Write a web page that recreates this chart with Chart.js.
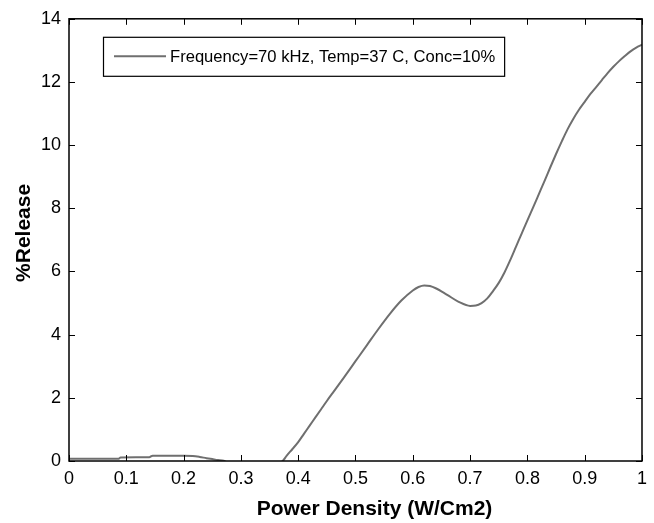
<!DOCTYPE html>
<html>
<head>
<meta charset="utf-8">
<script src="https://cdn.jsdelivr.net/npm/chart.js@4.4.1/dist/chart.umd.min.js"></script>
<style>
  html, body { margin: 0; padding: 0; background: #fff; }
  #wrap { width: 654px; height: 523px; }
</style>
</head>
<body>
<div id="wrap"><canvas id="releaseChart"></canvas></div>
<script>
// values
const powerDensity = [0, 0.05, 0.086, 0.09, 0.14, 0.146, 0.2, 0.216, 0.228, 0.24,
  0.25, 0.26, 0.27, 0.28, 0.3, 0.33, 0.36, 0.373, 0.38, 0.39,
  0.4, 0.41, 0.42, 0.43, 0.44, 0.45, 0.46, 0.48, 0.5, 0.52,
  0.54, 0.56, 0.58, 0.6, 0.61, 0.62, 0.63, 0.64, 0.66, 0.68,
  0.7, 0.71, 0.72, 0.73, 0.74, 0.75, 0.76, 0.77, 0.78, 0.79,
  0.8, 0.81, 0.82, 0.83, 0.84, 0.85, 0.86, 0.87, 0.88, 0.89,
  0.9, 0.91, 0.92, 0.93, 0.94, 0.95, 0.96, 0.97, 0.98, 0.99, 1.0];
const release = [0.07, 0.07, 0.07, 0.11, 0.12, 0.17, 0.17, 0.16, 0.13, 0.09,
  0.06, 0.03, 0.01, -0.1, -0.3, -0.35, -0.15, 0, 0.17, 0.38,
  0.6, 0.86, 1.12, 1.38, 1.64, 1.9, 2.15, 2.65, 3.16, 3.67,
  4.18, 4.66, 5.08, 5.4, 5.51, 5.56, 5.54, 5.47, 5.26, 5.04,
  4.91, 4.92, 5.0, 5.15, 5.38, 5.64, 5.97, 6.36, 6.78, 7.2,
  7.62, 8.03, 8.45, 8.87, 9.3, 9.72, 10.12, 10.5, 10.83, 11.12,
  11.37, 11.62, 11.84, 12.06, 12.28, 12.48, 12.66, 12.82, 12.97, 13.09, 13.18];
const xTicks = [0, 0.1, 0.2, 0.3, 0.4, 0.5, 0.6, 0.7, 0.8, 0.9, 1];
const yTicks = [0, 2, 4, 6, 8, 10, 12, 14];
const seriesLabel = 'Frequency=70 kHz, Temp=37 C, Conc=10%';
const xTitle = 'Power Density (W/Cm2)';
const yTitle = '%Release';

const fontFamily = 'Arial, "Liberation Sans", sans-serif';
const lineColor = '#6f6f6f';

// matlab style box, inward ticks, titles and boxed legend
const matlabAxes = {
  id: 'matlabAxes',
  afterDatasetsDraw(chart) {
    const { ctx, chartArea: a, scales: { x, y } } = chart;
    ctx.save();
    ctx.strokeStyle = '#000';
    ctx.lineWidth = 1.5;
    ctx.strokeRect(a.left, a.top, a.right - a.left, a.bottom - a.top);

    ctx.lineWidth = 1;
    ctx.beginPath();
    x.ticks.forEach(t => {
      const px = Math.round(x.getPixelForValue(t.value)) + 0.5;
      ctx.moveTo(px, a.bottom); ctx.lineTo(px, a.bottom - 6);
      ctx.moveTo(px, a.top); ctx.lineTo(px, a.top + 6);
    });
    y.ticks.forEach(t => {
      const py = Math.round(y.getPixelForValue(t.value)) + 0.5;
      ctx.moveTo(a.left, py); ctx.lineTo(a.left + 6, py);
      ctx.moveTo(a.right, py); ctx.lineTo(a.right - 6, py);
    });
    ctx.stroke();

    // axis titles
    ctx.fillStyle = '#000';
    ctx.font = 'bold 21px ' + fontFamily;
    ctx.textAlign = 'center';
    ctx.textBaseline = 'middle';
    ctx.fillText(xTitle, (a.left + a.right) / 2 + 19, 509);
    ctx.save();
    ctx.translate(24, (a.top + a.bottom) / 2 - 7);
    ctx.rotate(-Math.PI / 2);
    ctx.fillText(yTitle, 0, 0);
    ctx.restore();

    // legend
    ctx.font = '16.6px ' + fontFamily;
    const label = chart.data.datasets[0].label;
    const tw = ctx.measureText(label).width;
    const bx = a.left + 34, by = a.top + 18, bh = 39;
    const bw = 11 + 52 + 4 + tw + 9;
    ctx.fillStyle = '#fff';
    ctx.fillRect(bx, by, bw, bh);
    ctx.lineWidth = 1.2;
    ctx.strokeStyle = '#000';
    ctx.strokeRect(bx + 0.5, by + 0.5, bw, bh);
    ctx.strokeStyle = lineColor;
    ctx.lineWidth = 2;
    ctx.beginPath();
    ctx.moveTo(bx + 11, by + bh / 2);
    ctx.lineTo(bx + 63, by + bh / 2);
    ctx.stroke();
    ctx.fillStyle = '#000';
    ctx.textAlign = 'left';
    ctx.fillText(label, bx + 67, by + bh / 2 + 1);
    ctx.restore();
  }
};

const ctx = document.getElementById('releaseChart');
new Chart(ctx, {
  type: 'line',
  data: {
    datasets: [{
      label: seriesLabel,
      data: powerDensity.map((v, i) => ({ x: v, y: release[i] })),
      borderColor: lineColor,
      borderWidth: 2,
      pointRadius: 0,
      cubicInterpolationMode: 'monotone',
      fill: false,
      clip: 0
    }]
  },
  options: {
    responsive: true,
    maintainAspectRatio: false,
    animation: false,
    layout: { padding: { top: 14, right: 11, left: 0, bottom: 0 } },
    plugins: {
      legend: { display: false },
      tooltip: { enabled: false }
    },
    scales: {
      x: {
        type: 'linear',
        min: 0,
        max: 1,
        afterBuildTicks: s => { s.ticks = xTicks.map(v => ({ value: v })); },
        afterFit: s => { s.height = 62; },
        grid: { display: false, drawTicks: false },
        border: { display: false },
        ticks: {
          padding: 7,
          color: '#000',
          maxRotation: 0,
          font: { size: 18, family: fontFamily },
          callback: v => String(parseFloat(v.toFixed(1)))
        }
      },
      y: {
        type: 'linear',
        min: 0,
        max: 14,
        afterBuildTicks: s => { s.ticks = yTicks.map(v => ({ value: v })); },
        afterFit: s => { s.width = 69; },
        grid: { display: false, drawTicks: false },
        border: { display: false },
        ticks: {
          padding: 8,
          color: '#000',
          font: { size: 18, family: fontFamily },
          callback: v => String(v)
        }
      }
    }
  },
  plugins: [matlabAxes]
});
</script>
</body>
</html>
